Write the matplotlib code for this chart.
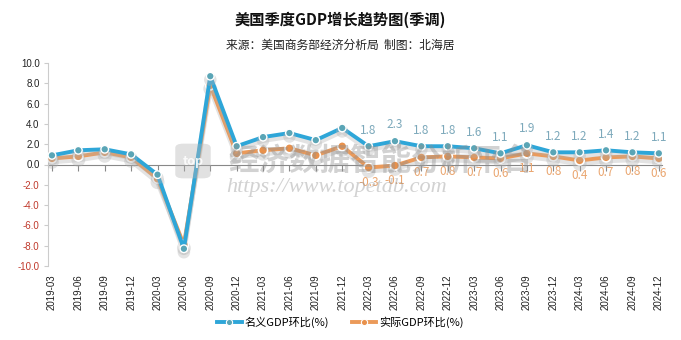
import matplotlib
matplotlib.use("Agg")
import matplotlib.pyplot as plt
import matplotlib.patheffects as pe
from matplotlib.patches import FancyBboxPatch

plt.rcParams['font.family'] = ['Noto Sans CJK SC', 'DejaVu Sans']

quarters = ["2019-03", "2019-06", "2019-09", "2019-12", "2020-03", "2020-06",
            "2020-09", "2020-12", "2021-03", "2021-06", "2021-09", "2021-12",
            "2022-03", "2022-06", "2022-09", "2022-12", "2023-03", "2023-06",
            "2023-09", "2023-12", "2024-03", "2024-06", "2024-09", "2024-12"]
nominal = [0.9, 1.4, 1.5, 1.0, -1.0, -8.3, 8.7, 1.8, 2.7, 3.1, 2.4, 3.6,
           1.8, 2.3, 1.8, 1.8, 1.6, 1.1, 1.9, 1.2, 1.2, 1.4, 1.2, 1.1]
real = [0.6, 0.8, 1.2, 0.7, -1.4, -7.9, 7.8, 1.1, 1.4, 1.6, 0.9, 1.8,
        -0.3, -0.1, 0.7, 0.8, 0.7, 0.6, 1.1, 0.8, 0.4, 0.7, 0.8, 0.6]
y_ticks = [10.0, 8.0, 6.0, 4.0, 2.0, 0.0, -2.0, -4.0, -6.0, -8.0, -10.0]
label_start = 12  # values are annotated from 2022-03 onward

title = "美国季度GDP增长趋势图(季调)"
subtitle = "来源：美国商务部经济分析局  制图：北海居"
nominal_name = "名义GDP环比(%)"
real_name = "实际GDP环比(%)"

blue = "#2ea6d8"
blue_marker = "#5aa5b6"
blue_text = "#7da9bb"
orange = "#eb9a5a"
orange_marker = "#e8914c"
orange_text = "#eaa670"

W, H = 681, 340
fig = plt.figure(figsize=(W / 100, H / 100), dpi=100)
ax = fig.add_axes([48 / W, 1 - 266 / H, (662 - 48) / W, (266 - 63) / H])

x = list(range(len(quarters)))
shadow = [pe.SimpleLineShadow(offset=(0, -2.5), shadow_color="#b0b0b0", alpha=0.35, linewidth=3.5),
          pe.Normal()]

ax.plot(x, real, color=orange, lw=2.8, marker="o", ms=6.5, mfc=orange_marker,
        mec="white", mew=1.2, zorder=3, path_effects=shadow, solid_joinstyle="round")
ax.plot(x, nominal, color=blue, lw=2.8, marker="o", ms=5.5, mfc=blue_marker,
        mec="white", mew=1.0, zorder=4, path_effects=shadow, solid_joinstyle="round")

for i in range(label_start, len(quarters)):
    ax.annotate(f"{nominal[i]:.1f}", (x[i], nominal[i]), xytext=(0, 7),
                textcoords="offset points", ha="center", va="bottom",
                fontsize=8.5, color=blue_text, fontweight="light", zorder=6)
    ax.annotate(f"{real[i]:.1f}", (x[i], real[i]), xytext=(0, -6),
                textcoords="offset points", ha="center", va="top",
                fontsize=8.5, color=orange_text, fontweight="light", zorder=6)

ax.set_xlim(-0.15, 23.12)
ax.set_ylim(-10, 10)

# y axis
ax.set_yticks(y_ticks)
ax.set_yticklabels([f"{v:.1f}" for v in y_ticks], fontsize=7,
                   family=["Liberation Sans", "DejaVu Sans"])
for lbl, v in zip(ax.get_yticklabels(), y_ticks):
    lbl.set_color("#c0392b" if v < 0 else "#222222")
ax.tick_params(axis="y", length=3, color="#cccccc", pad=3)
ax.spines["left"].set_color("#cccccc")
ax.spines["right"].set_visible(False)
ax.spines["top"].set_visible(False)

# zero baseline with category ticks
ax.spines["bottom"].set_position(("data", 0))
ax.spines["bottom"].set_color("#888888")
ax.spines["bottom"].set_zorder(2)
ax.set_xticks(x)
ax.tick_params(axis="x", length=4, color="#888888", labelbottom=False)

# category labels along the bottom
sec = ax.secondary_xaxis("bottom")
sec.set_xticks(x)
sec.set_xticklabels(quarters, rotation=90, fontsize=7,
                    family=["Liberation Sans", "DejaVu Sans"], color="#222222")
sec.tick_params(length=0, pad=6)
sec.spines["bottom"].set_visible(False)

# watermark
wm = FancyBboxPatch((178 / W, 1 - 177 / H), 30 / W, 32 / H,
                    boxstyle="round,pad=0.004,rounding_size=0.012",
                    transform=fig.transFigure, facecolor="#b5b5b5", alpha=0.4,
                    edgecolor="none", zorder=5)
fig.patches.append(wm)
fig.text(193 / W, 1 - 161 / H, "top", ha="center", va="center", fontsize=9,
         color="white", alpha=0.85, fontweight="bold", zorder=6)
fig.text(228 / W, 1 - 161 / H, "经济数据智能分析平台", ha="left", va="center",
         fontsize=22, color="#8f8f8f", alpha=0.4, fontweight="bold",
         style="italic", zorder=5)
fig.text(226 / W, 1 - 187 / H, "https://www.topetdb.com", ha="left", va="center",
         fontsize=16, color="#8f8f8f", alpha=0.4, style="italic",
         family=["Liberation Serif", "DejaVu Serif"], zorder=5)

# titles
fig.text(0.5, 1 - 20 / H, title, ha="center", va="center", fontsize=11,
         fontweight="bold", color="#111111")
fig.text(0.5, 1 - 45 / H, subtitle, ha="center", va="center", fontsize=8.5,
         style="italic", color="#222222")

# legend
h1, = ax.plot([], [], color=blue, lw=2.8, marker="o", ms=4.5, mfc=blue_marker,
              mec="white", mew=0.8)
h2, = ax.plot([], [], color=orange, lw=2.8, marker="o", ms=4.5, mfc=orange_marker,
              mec="white", mew=0.8)
fig.legend([h1, h2], [nominal_name, real_name], loc="center",
           bbox_to_anchor=(0.5, 1 - 322 / H), ncol=2, frameon=False,
           fontsize=8, handlelength=2.2, columnspacing=2.0, handletextpad=0.3)

fig.savefig("out.png", dpi=100, facecolor="white")
